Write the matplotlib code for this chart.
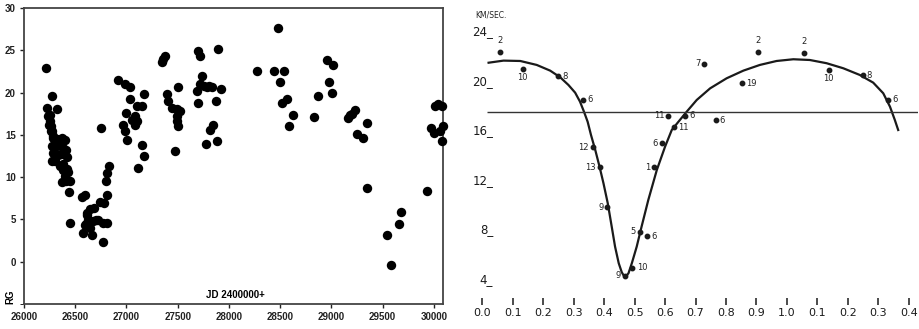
import numpy as np
import matplotlib.pyplot as plt

# Left panel: RG velocity vs Julian date
jd = [26212, 26228, 26270, 26325, 26237, 26247, 26260,
      26250, 26258, 26265, 26275, 26285, 26286, 26320, 26368, 26400,
      26270, 26300, 26340, 26380, 26410, 26285, 26330, 26365, 26415,
      26270, 26300, 26385, 26350, 26415, 26384, 26430, 26400, 26370,
      26410, 26445, 26440, 26449,
      26563, 26600, 26618, 26645, 26684, 26612, 26628, 26605, 26596,
      26579, 26661, 26645, 26670, 26700, 26720, 26775, 26807, 26742,
      26780, 26807, 26801, 26814, 26830, 26769, 26749,
      26921, 26986, 27035, 27172, 27035, 27100, 27150, 26996, 27052,
      27084, 27100, 26970, 27080, 26986, 27003, 27117, 27149, 27172,
      27344, 27360, 27377, 27506, 27393, 27409, 27442, 27491, 27523,
      27491, 27491, 27507, 27475,
      27702, 27719, 27898, 27735, 27719, 27760, 27790, 27810, 27835,
      27693, 27921, 27702, 27875, 27843, 27816, 27888, 27777,
      28272, 28441, 28542, 28484, 28500, 28516, 28565, 28621, 28588,
      28835, 28868, 28956, 29021, 28982, 29011, 29167, 29185, 29200,
      29233, 29249, 29308, 29347, 29353, 29542, 29581, 29665, 29679,
      29933, 29975, 30007, 30014, 30046, 30079, 30089, 30079, 30063]
rg = [22.85, 18.2, 19.6, 18.1, 17.2, 16.2, 15.4,
      17.4, 16.6, 16.0, 15.4, 14.9, 14.6, 14.5, 14.6, 14.4,
      13.7, 13.6, 13.9, 13.5, 13.2, 12.9, 12.6, 12.7, 12.4,
      11.9, 11.9, 11.6, 11.3, 11.0, 10.9, 10.6, 10.1, 9.4,
      9.6, 9.5, 8.3, 4.6,
      7.6, 7.9, 5.75, 6.2, 6.3, 5.5, 4.95, 4.5, 4.4,
      3.4, 3.2, 4.0, 4.8, 4.9, 4.95, 4.6, 4.6, 7.1,
      7.0, 7.9, 9.5, 10.5, 11.3, 2.3, 15.8,
      21.5, 21.0, 20.7, 19.8, 19.2, 18.4, 18.4, 17.6, 16.8,
      17.2, 16.6, 16.2, 16.2, 15.4, 14.45, 11.1, 13.75, 12.5,
      23.6, 23.95, 24.3, 20.6, 19.8, 19.0, 18.2, 18.0, 17.8,
      17.2, 16.6, 16.0, 13.06,
      24.9, 24.35, 25.2, 21.97, 21.0, 20.8, 20.6, 20.8, 20.6,
      20.2, 20.4, 18.8, 19.0, 16.2, 15.55, 14.3, 13.86,
      22.5, 22.5, 22.5, 27.6, 21.3, 18.8, 19.2, 17.4, 16.1,
      17.1, 19.6, 23.8, 23.3, 21.3, 19.9, 16.95, 17.3, 17.5,
      17.9, 15.05, 14.65, 16.4, 8.7, 3.1, -0.4, 4.5, 5.9,
      8.4, 15.8, 15.2, 18.4, 18.7, 18.4, 16.1, 14.25, 15.4]

# Right panel: velocity curve vs phase
curve_phase = [0.021, 0.07, 0.125, 0.179, 0.223, 0.256, 0.283, 0.305, 0.321,
               0.334, 0.346, 0.357, 0.371, 0.385, 0.398, 0.412, 0.425, 0.436,
               0.448, 0.458, 0.466, 0.472, 0.48, 0.491, 0.507, 0.523, 0.545,
               0.573, 0.60, 0.622, 0.644, 0.671, 0.704, 0.748, 0.802, 0.857,
               0.911, 0.966, 1.021, 1.075, 1.13, 1.185, 1.239, 1.283, 1.316,
               1.338, 1.354, 1.365]
curve_vel = [21.49, 21.66, 21.63, 21.31, 20.85, 20.31, 19.69, 19.07, 18.34,
             17.53, 16.72, 15.65, 14.44, 13.09, 11.74, 10.13, 8.24, 6.62,
             5.28, 4.55, 4.22, 4.22, 4.47, 5.28, 6.62, 8.24, 10.39,
             12.82, 14.7, 16.05, 16.72, 17.53, 18.48, 19.42, 20.23, 20.85,
             21.31, 21.63, 21.77, 21.71, 21.45, 21.04, 20.5, 19.88, 19.02,
             17.94, 16.86, 16.05]
gamma_vel = 17.5

obs_phase = [0.057, 0.133, 0.248, 0.331, 0.363, 0.387, 0.411, 0.467, 0.493,
             0.518, 0.540, 0.564, 0.589, 0.611, 0.629, 0.667, 0.729, 0.766,
             0.851, 0.905, 1.055, 1.137, 1.248, 1.332]
obs_vel = [22.33, 20.98, 20.4, 18.48, 14.65, 13.04, 9.8, 4.25, 4.92,
           7.83, 7.48, 13.04, 14.98, 17.19, 16.27, 17.19, 21.39, 16.84,
           19.83, 22.38, 22.25, 20.93, 20.49, 18.5]
obs_label = ['2', '10', '8', '6', '12', '13', '9', '9', '10',
             '5', '6', '1', '6', '11', '11', '6', '7', '6',
             '19', '2', '2', '10', '8', '6']
label_side = ['above', 'below', 'right', 'right', 'left', 'left', 'left', 'left', 'right',
              'left', 'right', 'left', 'left', 'left', 'right', 'right', 'left', 'right',
              'right', 'above', 'above', 'below', 'right', 'right']

phase_ticks = [0.0, 0.1, 0.2, 0.3, 0.4, 0.5, 0.6, 0.7, 0.8, 0.9, 1.0, 1.1, 1.2, 1.3, 1.4]
phase_labels = ['0.0', '0.1', '0.2', '0.3', '0.4', '0.5', '0.6', '0.7', '0.8', '0.9',
                '1.0', '0.1', '0.2', '0.3', '0.4']
vel_ticks = [24, 20, 16, 12, 8, 4]

fig = plt.figure(figsize=(9.2, 3.29), dpi=100)

# --- left scatter ---
ax1 = fig.add_axes([24/920, 25/329, 419/920, 296/329])
ax1.scatter(jd, rg, s=46, color='black', linewidths=0, clip_on=False, zorder=3)
ax1.set_xlim(26000, 30090)
ax1.set_ylim(-5, 30)
ax1.set_xticks(np.arange(26000, 30001, 500))
ax1.set_yticks(np.arange(0, 31, 5))
ax1.set_yticks([-5], minor=True)
for lab in ax1.get_xticklabels() + ax1.get_yticklabels():
    lab.set_fontweight('bold')
    lab.set_fontfamily('Liberation Sans')
ax1.tick_params(axis='both', labelsize=7, length=3, width=1, direction='out', pad=3, colors='#222222')
ax1.tick_params(axis='y', which='minor', length=3)
for sp in ax1.spines.values():
    sp.set_color('#444444')
    sp.set_linewidth(1.3)
ax1.text(-0.033, 0.0, 'RG', rotation=90, transform=ax1.transAxes, ha='center', va='bottom',
         fontsize=7, fontweight='bold', family='Liberation Sans')
ax1.text(0.504, 0.03, 'JD 2400000+', transform=ax1.transAxes, ha='center', va='center',
         fontsize=7, fontweight='bold', family='Liberation Sans')

# --- right velocity curve ---
ax2 = fig.add_axes([470/920, 31/329, 448/920, 298/329])
ax2.set_xlim(-0.04, 1.43)
ax2.set_ylim(2.47, 26.56)
ax2.plot(curve_phase, curve_vel, color='#1a1a1a', lw=1.6, solid_joinstyle='round')
ax2.hlines(gamma_vel, 0.016, 1.43, color='#333333', lw=1.0)
ax2.plot(obs_phase, obs_vel, 'o', color='#1a1a1a', ms=3.2)

offsets = {'above': (0, 5, 'center', 'bottom'), 'below': (0, -3, 'center', 'top'),
           'left': (-3, 0, 'right', 'center'), 'right': (3, 0, 'left', 'center')}
for p, v, lab, side in zip(obs_phase, obs_vel, obs_label, label_side):
    dx, dy, ha, va = offsets[side]
    ax2.annotate(lab, (p, v), xytext=(dx, dy), textcoords='offset points',
                 ha=ha, va=va, fontsize=6, color='#222222')

for v in vel_ticks:
    ax2.text(0.036, v, f'{v}_', ha='right', va='center', fontsize=8.5, color='#1a1a1a')
ax2.text(0.03, 25.35, 'KM/SEC.', ha='center', va='center', fontsize=5.5, color='#222222')

ax2.set_xticks(phase_ticks)
ax2.set_xticklabels(phase_labels)
ax2.set_yticks([])
ax2.tick_params(axis='x', length=5, width=1.1, direction='out', pad=2, labelsize=8,
                colors='#1a1a1a')
for sp in ax2.spines.values():
    sp.set_visible(False)

fig.savefig('out.png', dpi=100)
